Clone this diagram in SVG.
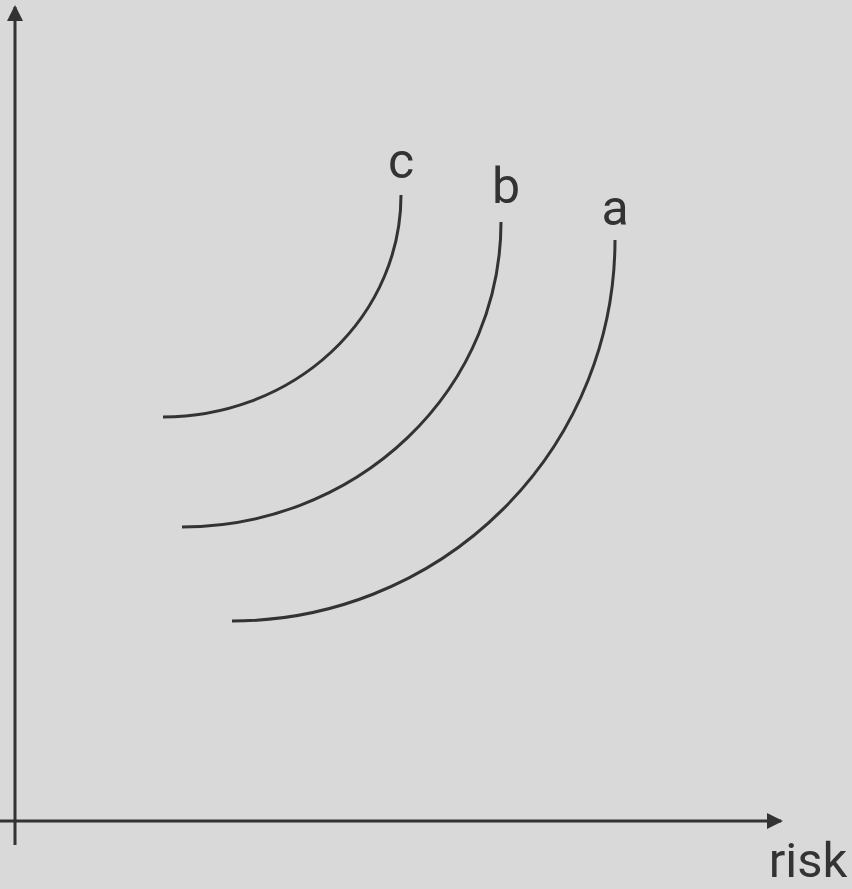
<svg xmlns="http://www.w3.org/2000/svg" width="852" height="889" viewBox="0 0 852 889">
<style>
.ax{stroke:#333;stroke-width:3;fill:none}
.cv{stroke:#333;stroke-width:3;fill:none}
.lb{font-family:Roboto,"Liberation Sans",sans-serif;fill:#333;text-anchor:middle}
</style>
<defs>
<marker id="ah" viewBox="0 0 16 16" refX="14" refY="8" markerWidth="16" markerHeight="16" markerUnits="userSpaceOnUse" orient="auto">
<path d="M0,0 L16,8 L0,16 Z" fill="#333"/>
</marker>
</defs>
<rect width="852" height="889" fill="#d9d9d9"/>
<g id="connectors">
<line class="ax" x1="15" y1="845" x2="15" y2="7" marker-end="url(#ah)"/>
<line class="ax" x1="0" y1="821" x2="781" y2="821" marker-end="url(#ah)"/>
</g>
<g id="curve-c"><path class="cv" d="M401,195 A238,222 0 0 1 163,417"/><text class="lb" x="401" y="178" font-size="50">c</text></g>
<g id="curve-b"><path class="cv" d="M501,222 A319,305 0 0 1 182,527"/><text class="lb" x="506" y="203" font-size="50">b</text></g>
<g id="curve-a"><path class="cv" d="M615,240 A383,381 0 0 1 232,621"/><text class="lb" x="615" y="225" font-size="50">a</text></g>
<g id="label-risk"><text class="lb" x="808" y="877" font-size="49">risk</text></g>
</svg>
